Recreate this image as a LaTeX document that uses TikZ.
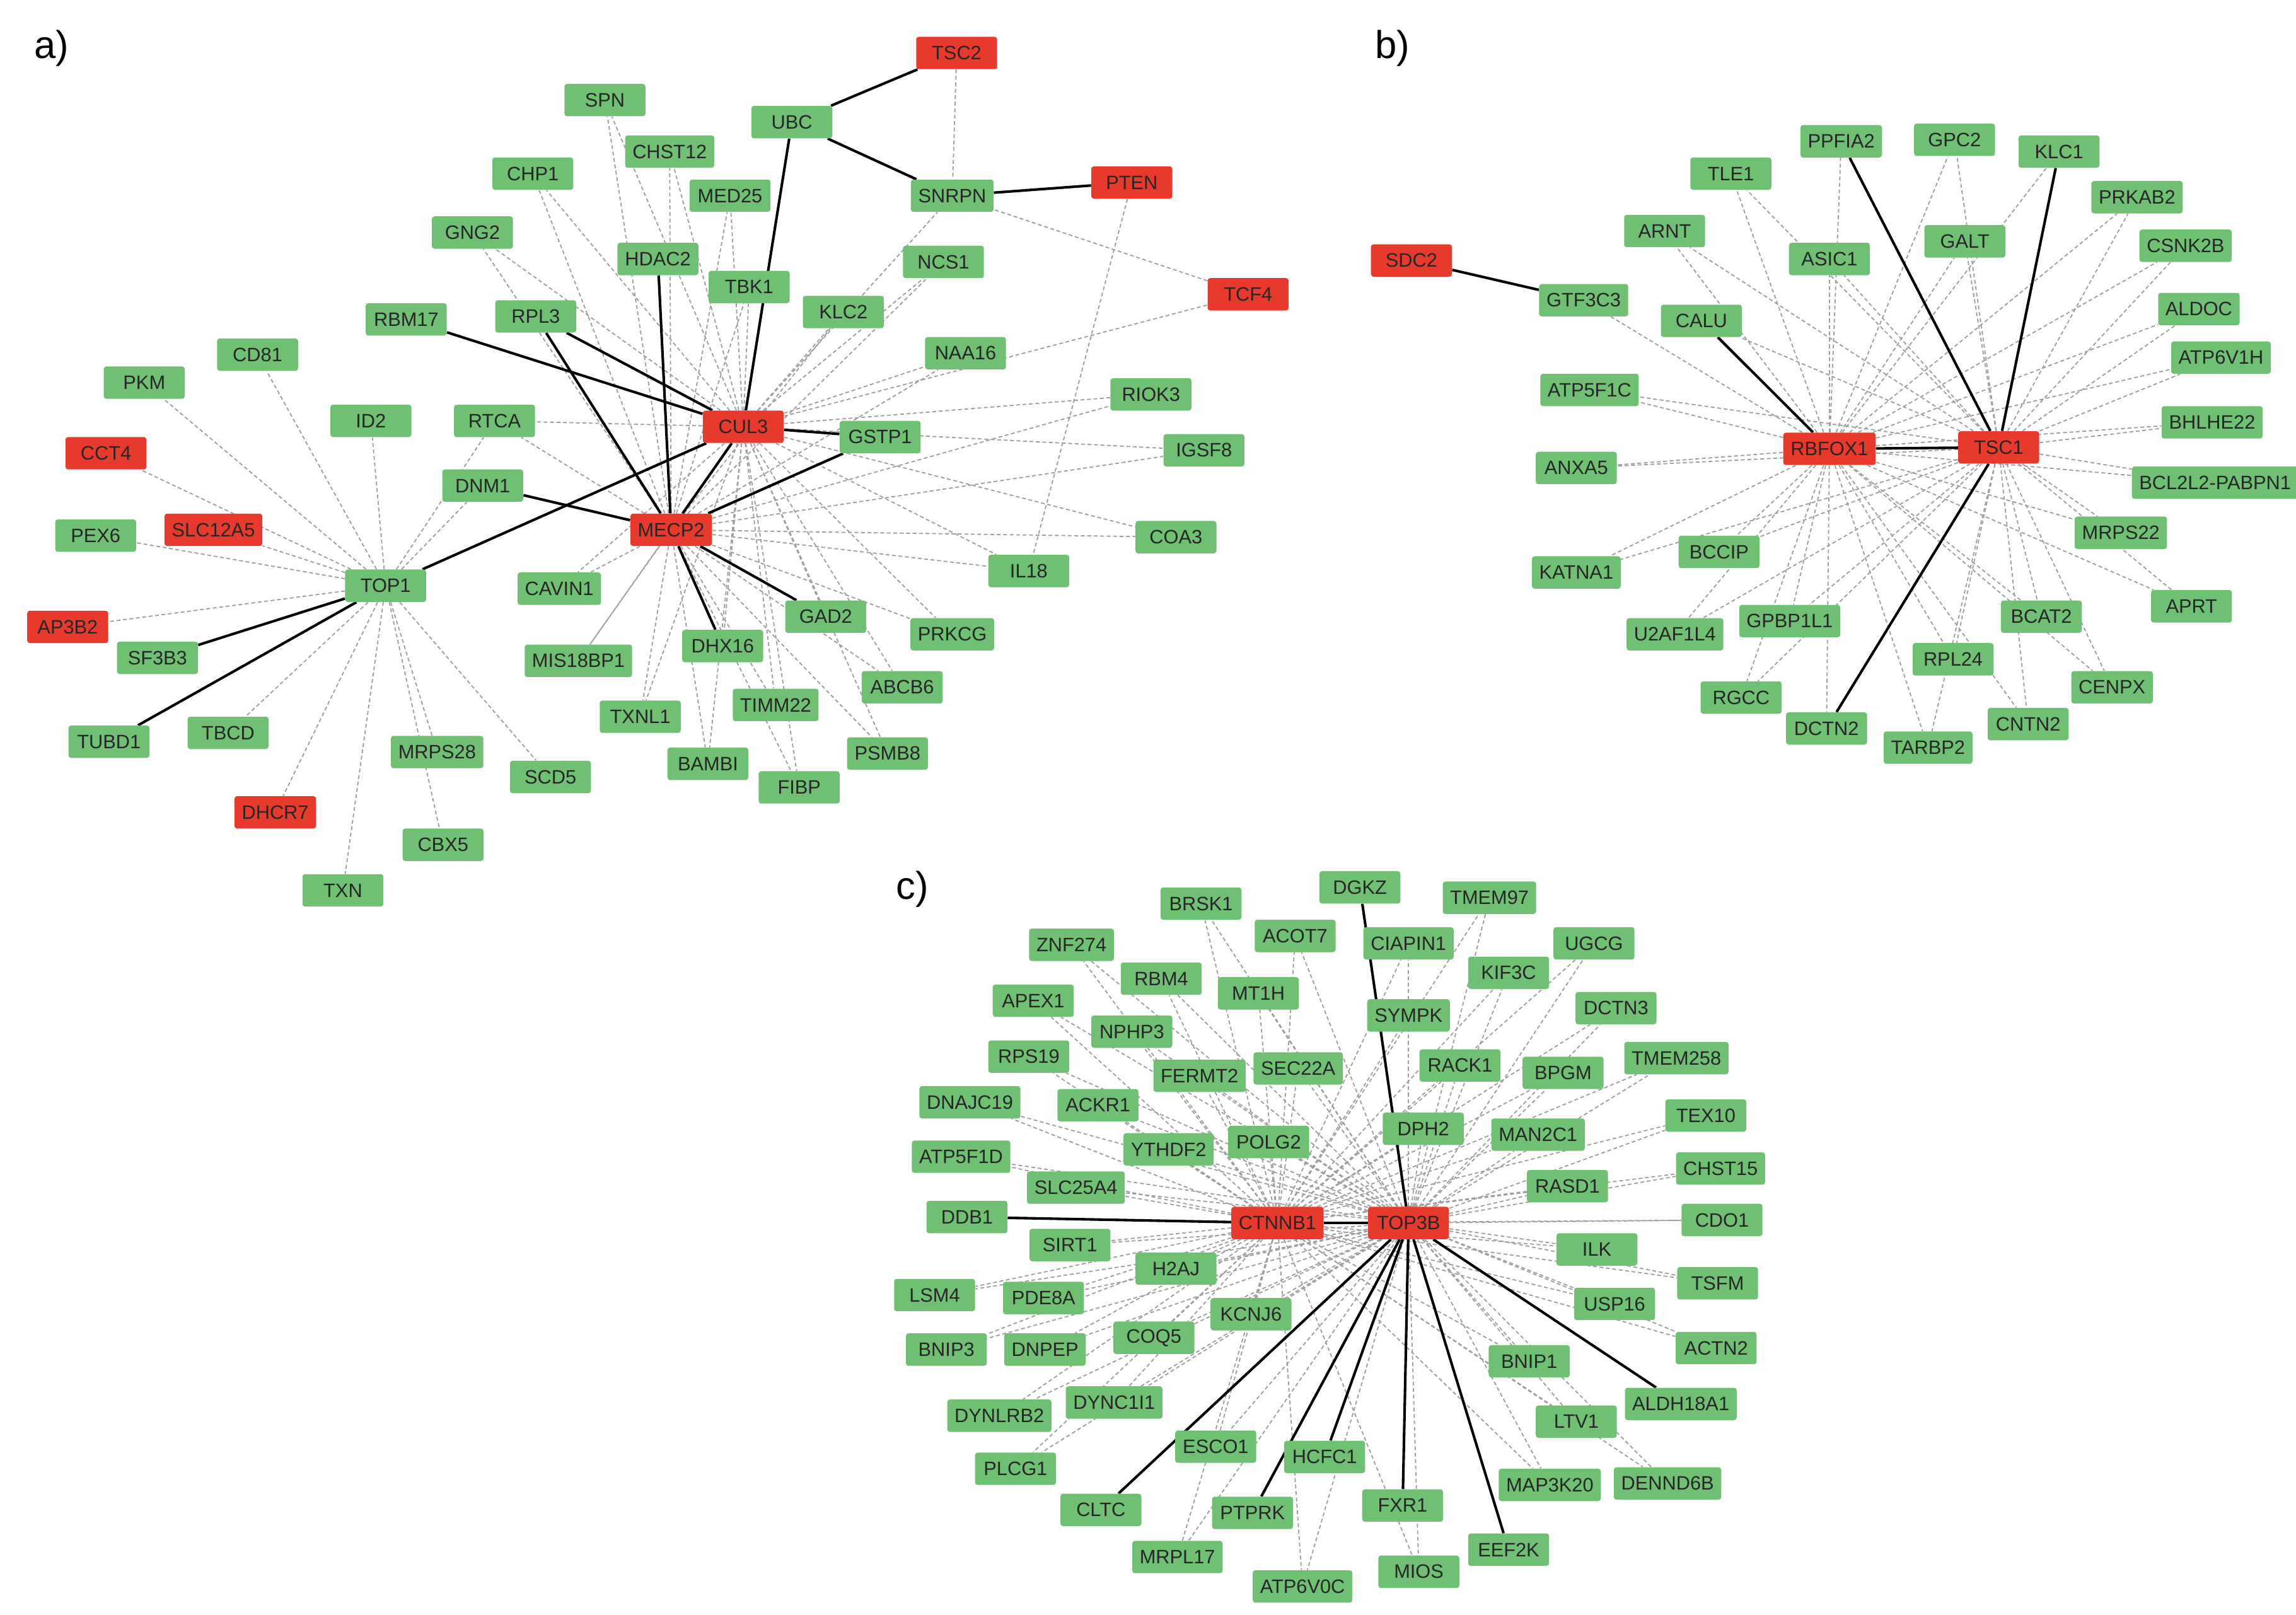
\documentclass[tikz,border=0pt]{standalone}
\usepackage{fontspec}
\setmainfont{Liberation Sans}
\usetikzlibrary{backgrounds}
\definecolor{gn}{RGB}{112,192,116}
\definecolor{rd}{RGB}{232,58,44}
\begin{document}
\begin{tikzpicture}[x=0.04cm,y=-0.04cm,
 nd/.style={rounded corners=2pt,font=\fontsize{15}{16}\selectfont,minimum height=0.88cm,minimum width=2.2cm,inner xsep=0.2cm,text=black!85},
 g/.style={nd,fill=gn},
 r/.style={nd,fill=rd},
 dl/.style={gray!75,dashed,line width=0.9pt,dash pattern=on 3pt off 2pt},
 sl/.style={black,line width=2pt},
 lab/.style={font=\fontsize{30}{32}\selectfont}]
\useasboundingbox (0,0) rectangle (1560,1097);
\node[lab] (la) at (35,33) {a)};
\node[lab] (lb) at (946,33) {b)};
\node[lab] (lc) at (620,604) {c)};
% reds
\foreach \n/\x/\y in {TSC2/650/36,PTEN/769/124,TCF4/848/200,CUL3/505/290,CCT4/72/308,MECP2/456/360,SLC12A5/145/360,AP3B2/46/426,DHCR7/187/552,SDC2/959/177,RBFOX1/1243/305,TSC1/1358/304,CTNNB1/868/831,TOP3B/957/831}
  \node[r] (\n) at (\x,\y) {\n};
% greens
\foreach \n/\x/\y in {SPN/411/68,UBC/538/83,CHP1/362/118,CHST12/455/103,MED25/496/133,SNRPN/647/133,GNG2/321/158,HDAC2/447/176,NCS1/641/178,TBK1/509/195,KLC2/573/212,RBM17/276/217,RPL3/364/215,NAA16/656/240,CD81/175/241,PKM/98/260,RIOK3/782/268,ID2/252/286,RTCA/336/286,GSTP1/598/297,IGSF8/818/306,DNM1/328/330,PEX6/65/364,COA3/799/365,IL18/699/388,TOP1/262/398,CAVIN1/380/400,GAD2/561/419,SF3B3/107/447,MIS18BP1/393/449,DHX16/491/439,PRKCG/647/431,ABCB6/613/467,TXNL1/435/487,TIMM22/527/479,TUBD1/74/504,TBCD/155/498,MRPS28/297/511,SCD5/374/528,BAMBI/481/519,PSMB8/603/512,FIBP/543/535,CBX5/301/574,TXN/233/605}
  \node[g] (\n) at (\x,\y) {\n};
\foreach \n/\x/\y in {GTF3C3/1076/204,PPFIA2/1251/96,GPC2/1328/95,KLC1/1399/103,TLE1/1176/118,PRKAB2/1452/134,ARNT/1131/157,GALT/1335/164,ASIC1/1243/176,CSNK2B/1485/167,CALU/1156/218,ALDOC/1494/210,ATP6V1H/1509/243,ATP5F1C/1080/265,BHLHE22/1503/287,ANXA5/1071/318,BCL2L2-PABPN1/1505/328,MRPS22/1441/362,BCCIP/1168/375,KATNA1/1071/389,APRT/1489/412,BCAT2/1387/419,GPBP1L1/1216/422,U2AF1L4/1138/431,RPL24/1327/448,CENPX/1435/467,RGCC/1183/474,DCTN2/1241/495,CNTN2/1378/492,TARBP2/1310/508}
  \node[g] (\n) at (\x,\y) {\n};
\foreach \n/\x/\y in {DGKZ/924/603,TMEM97/1012/610,BRSK1/816/614,ACOT7/880/636,CIAPIN1/957/641,UGCG/1083/641,ZNF274/728/642,RBM4/789/665,KIF3C/1025/661,MT1H/855/675,APEX1/702/680,DCTN3/1098/685,NPHP3/769/701,SYMPK/957/690,RPS19/699/718,TMEM258/1139/719,FERMT2/815/731,SEC22A/882/726,RACK1/992/724,BPGM/1062/729,DNAJC19/659/749,ACKR1/746/751,DPH2/967/767,TEX10/1159/758,YTHDF2/794/781,POLG2/862/776,MAN2C1/1045/771,ATP5F1D/653/786,CHST15/1169/794,SLC25A4/731/807,RASD1/1065/806,DDB1/657/827,CDO1/1170/829,SIRT1/727/846,ILK/1085/849,H2AJ/799/862,TSFM/1167/872,LSM4/635/880,PDE8A/709/882,USP16/1097/886,KCNJ6/850/893,BNIP3/643/917,DNPEP/710/917,COQ5/784/909,ACTN2/1166/916,BNIP1/1039/925,ALDH18A1/1142/954,DYNC1I1/757/953,DYNLRB2/679/962,LTV1/1071/966,ESCO1/826/983,HCFC1/900/990,PLCG1/690/998,MAP3K20/1053/1009,DENND6B/1133/1008,CLTC/748/1026,FXR1/953/1023,PTPRK/851/1028,EEF2K/1025/1053,MRPL17/800/1058,MIOS/964/1068,ATP6V0C/885/1078}
  \node[g] (\n) at (\x,\y) {\n};
\begin{pgfonlayer}{background}
% panel a
\foreach \n in {CD81,PKM,ID2,CCT4,PEX6,SLC12A5,AP3B2,TBCD,DHCR7,MRPS28,CBX5,TXN,SCD5,RTCA,DNM1}
  \draw[dl] (TOP1) -- (\n);
\foreach \n in {SPN,CHP1,CHST12,MED25,GNG2,TBK1,KLC2,NCS1,NAA16,RIOK3,IGSF8,COA3,IL18,TCF4,RTCA,CAVIN1,PRKCG,ABCB6,TIMM22,PSMB8,FIBP,BAMBI,DHX16,GAD2,MIS18BP1,TXNL1,SNRPN}
  \draw[dl] (CUL3) -- (\n);
\foreach \n in {SPN,CHP1,CHST12,GNG2,MED25,TBK1,KLC2,NCS1,NAA16,RIOK3,IGSF8,COA3,RTCA,CAVIN1,MIS18BP1,TXNL1,TIMM22,BAMBI,FIBP,PSMB8,ABCB6,PRKCG,IL18}
  \draw[dl] (MECP2) -- (\n);
\draw[dl] (TSC2) -- (SNRPN);
\draw[dl] (PTEN) -- (IL18);
\draw[dl] (TCF4) -- (SNRPN);
\foreach \a/\b in {UBC/TSC2,UBC/SNRPN,SNRPN/PTEN,UBC/CUL3,HDAC2/MECP2,RBM17/CUL3,RPL3/MECP2,RPL3/CUL3,DNM1/MECP2,CUL3/GSTP1,MECP2/GSTP1,TOP1/CUL3,MECP2/GAD2,MECP2/DHX16,TOP1/SF3B3,TOP1/TUBD1,CUL3/MECP2}
  \draw[sl] (\a) -- (\b);
% panel b
\foreach \n in {GTF3C3,PPFIA2,GPC2,KLC1,TLE1,PRKAB2,ARNT,GALT,ASIC1,CSNK2B,ALDOC,ATP6V1H,ATP5F1C,BHLHE22,ANXA5,BCL2L2-PABPN1,MRPS22,BCCIP,KATNA1,APRT,BCAT2,GPBP1L1,U2AF1L4,RPL24,CENPX,RGCC,DCTN2,CNTN2,TARBP2}
  \draw[dl] (RBFOX1) -- (\n);
\foreach \n in {GPC2,TLE1,PRKAB2,ARNT,GALT,ASIC1,CSNK2B,CALU,ALDOC,ATP6V1H,ATP5F1C,BHLHE22,ANXA5,BCL2L2-PABPN1,MRPS22,BCCIP,KATNA1,APRT,BCAT2,GPBP1L1,U2AF1L4,RPL24,CENPX,RGCC,CNTN2,TARBP2}
  \draw[dl] (TSC1) -- (\n);
\foreach \a/\b in {SDC2/GTF3C3,CALU/RBFOX1,PPFIA2/TSC1,KLC1/TSC1,DCTN2/TSC1,RBFOX1/TSC1}
  \draw[sl] (\a) -- (\b);
% panel c
\foreach \n in {TMEM97,BRSK1,ACOT7,CIAPIN1,UGCG,ZNF274,RBM4,KIF3C,MT1H,APEX1,DCTN3,NPHP3,SYMPK,RPS19,TMEM258,FERMT2,SEC22A,RACK1,BPGM,DNAJC19,ACKR1,DPH2,TEX10,YTHDF2,POLG2,MAN2C1,ATP5F1D,CHST15,SLC25A4,RASD1,CDO1,SIRT1,ILK,H2AJ,TSFM,LSM4,PDE8A,USP16,KCNJ6,BNIP3,DNPEP,COQ5,ACTN2,BNIP1,DYNC1I1,DYNLRB2,LTV1,ESCO1,PLCG1,MAP3K20,DENND6B,MRPL17,MIOS,ATP6V0C}
  { \draw[dl] (CTNNB1) -- (\n); \draw[dl] (TOP3B) -- (\n); }
\foreach \a/\b in {DDB1/CTNNB1,CTNNB1/TOP3B,TOP3B/DGKZ,TOP3B/CLTC,TOP3B/HCFC1,TOP3B/PTPRK,TOP3B/FXR1,TOP3B/EEF2K,TOP3B/ALDH18A1}
  \draw[sl] (\a) -- (\b);
\end{pgfonlayer}
\end{tikzpicture}
\end{document}
